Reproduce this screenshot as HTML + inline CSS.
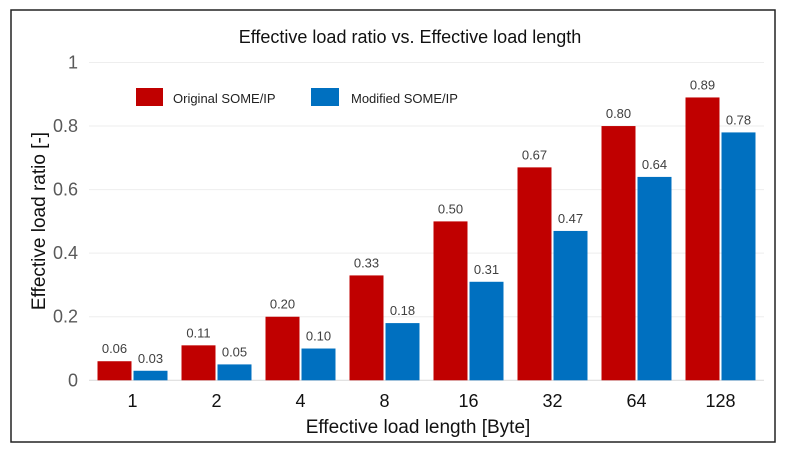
<!DOCTYPE html>
<html><head><meta charset="utf-8"><style>
body{margin:0;background:#fff;font-family:"Liberation Sans",sans-serif}
text{font-family:"Liberation Sans",sans-serif}
</style></head><body>
<svg id="chart" width="790" height="453" xmlns="http://www.w3.org/2000/svg">
<rect x="11" y="10" width="764" height="432" fill="#fff" stroke="#222" stroke-width="1.5"/>
<text x="410" y="43" text-anchor="middle" font-size="18" fill="#111">Effective load ratio vs. Effective load length</text>
<g id="grid"></g><g id="bars"></g><g id="labels"></g>
<text transform="translate(45,221) rotate(-90)" text-anchor="middle" font-size="19" fill="#111">Effective load ratio [-]</text>
<text x="418" y="433" text-anchor="middle" font-size="19" fill="#111">Effective load length [Byte]</text>
<g>
<rect x="136" y="88" width="27" height="18" fill="#c00000"/>
<text x="173" y="103" font-size="13" fill="#222">Original SOME/IP</text>
<rect x="311" y="88" width="28" height="18" fill="#0070c0"/>
<text x="351" y="103" font-size="13" fill="#222">Modified SOME/IP</text>
</g>
</svg>
<script>
const categories=["1","2","4","8","16","32","64","128"];
const originalValues=[0.06,0.11,0.20,0.33,0.50,0.67,0.80,0.89];
const originalLabels=["0.06","0.11","0.20","0.33","0.50","0.67","0.80","0.89"];
const modifiedValues=[0.03,0.05,0.10,0.18,0.31,0.47,0.64,0.78];
const modifiedLabels=["0.03","0.05","0.10","0.18","0.31","0.47","0.64","0.78"];
const yTicks=[0,0.2,0.4,0.6,0.8,1];
const yTickLabels=["0","0.2","0.4","0.6","0.8","1"];
const NS="http://www.w3.org/2000/svg";
const x0=90.5,band=84,y0=380.3,yTop=62.5;
const y=v=>y0-(y0-yTop)*v;
const xb=i=>x0+band*i;
function mk(tag,attrs,parent){const e=document.createElementNS(NS,tag);for(const k in attrs)e.setAttribute(k,attrs[k]);parent.appendChild(e);return e;}
const grid=document.getElementById('grid'),bars=document.getElementById('bars'),labels=document.getElementById('labels');
yTicks.forEach((t,i)=>{
 const l=mk('line',{x1:89,x2:764,y1:y(t),y2:y(t),stroke:i==0?'#d9d9d9':'#eeeeee','stroke-width':1},grid);
 
 
 const tx=mk('text',{x:78,y:y(t)+6,'text-anchor':'end','font-size':18,fill:'#595959'},labels);
 tx.textContent=yTickLabels[i];
 
 
});
categories.forEach((c,i)=>{
 const bx=xb(i)+7;
 const r=mk('rect',{x:bx,y:y(originalValues[i]),width:34,height:y0-y(originalValues[i]),fill:'#c00000'},bars);
 
 
 const b=mk('rect',{x:bx+36,y:y(modifiedValues[i]),width:34,height:y0-y(modifiedValues[i]),fill:'#0070c0'},bars);
 
 
 const t1=mk('text',{x:bx+17,y:y(originalValues[i])-8,'text-anchor':'middle','font-size':13,fill:'#404040'},labels);
 t1.textContent=originalLabels[i];
 
 
 const t2=mk('text',{x:bx+53,y:y(modifiedValues[i])-8,'text-anchor':'middle','font-size':13,fill:'#404040'},labels);
 t2.textContent=modifiedLabels[i];
 
 
 const xl=mk('text',{x:xb(i)+band/2,y:407,'text-anchor':'middle','font-size':18,fill:'#111'},labels);
 xl.textContent=c;
 
 
});
</script>
</body></html>
